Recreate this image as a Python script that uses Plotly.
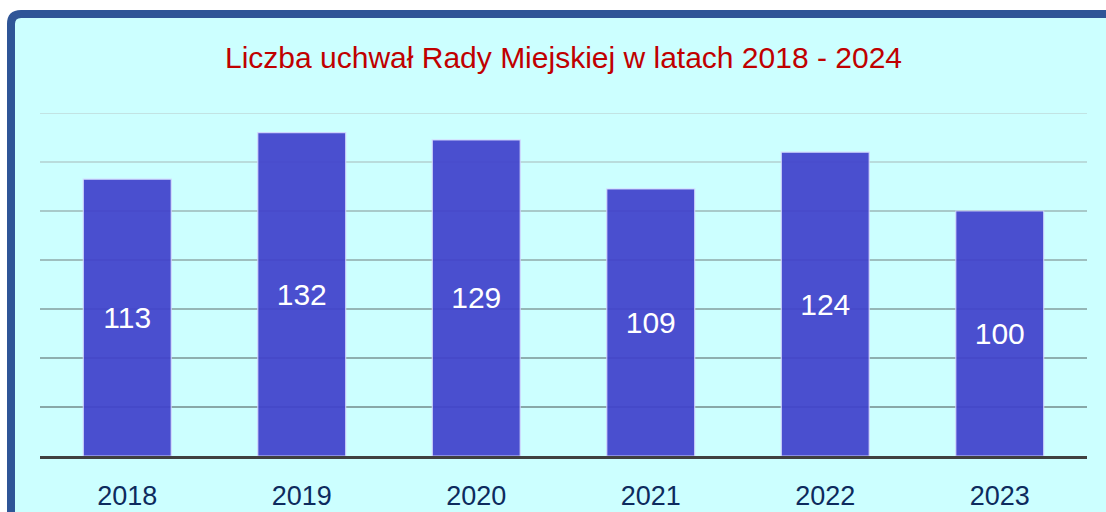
import plotly.graph_objects as go

years = ["2018", "2019", "2020", "2021", "2022", "2023"]
counts = [113, 132, 129, 109, 124, 100]
title_text = "Liczba uchwał Rady Miejskiej w latach 2018 - 2024"
grid_values = [20, 40, 60, 80, 100, 120, 140]
grid_colors = ["#88a8a8", "#8eafaf", "#95b6b6", "#9ebfbf", "#a8caca", "#b9dcdc", "#c2e3e3"]

FONT = "Liberation Sans Narrow, Arial Narrow, Liberation Sans, Arial, sans-serif"
W, H = 1106, 512
ML, MR, MT, MB = 40, 19, 113, 56
pw, ph = W - ML - MR, H - MT - MB

def px(x):
    return (x - ML) / pw

def py(y):
    return (H - MB - y) / ph

fig = go.Figure()
fig.add_trace(go.Bar(
    x=years, y=counts,
    marker=dict(color="rgb(64,65,204)", opacity=0.92,
                line=dict(color="rgba(215,215,255,0.9)", width=1.2)),
    text=[str(v) for v in counts],
    textposition="inside", insidetextanchor="middle",
    textangle=0,
    textfont=dict(family=FONT, size=30, color="white"),
    hoverinfo="skip",
))

shapes = []
# frame
x0, y0, x1, y1, r = px(11), py(14), px(1140), py(560), 10
rx, ry = r / pw, r / ph
path = (f"M {x0},{y1} L {x0},{y0 - ry} Q {x0},{y0} {x0 + rx},{y0} "
        f"L {x1},{y0} L {x1},{y1} Z")
shapes.append(dict(type="path", path=path, xref="paper", yref="paper",
                   fillcolor="#ccffff", line=dict(color="#2f5597", width=8),
                   layer="below"))
for gv, gc in zip(grid_values, grid_colors):
    shapes.append(dict(type="line", xref="paper", yref="y", x0=0, x1=1,
                       y0=gv, y1=gv, line=dict(color=gc, width=2),
                       layer="below"))

fig.update_layout(
    width=W, height=H,
    margin=dict(l=ML, r=MR, t=MT, b=MB, autoexpand=False),
    paper_bgcolor="white",
    plot_bgcolor="rgba(0,0,0,0)",
    shapes=shapes,
    bargap=0.496,
    showlegend=False,
    title=dict(text=title_text, xref="paper", x=0.5, xanchor="center",
               y=1 - 57 / H, yanchor="middle", yref="container",
               font=dict(family=FONT, size=30, color="#c00000")),
    xaxis=dict(showline=True, linecolor="#404040", linewidth=3,
               showgrid=False, ticks="", zeroline=False, automargin=False,
               ticklabelstandoff=14,
               tickfont=dict(family=FONT, size=27, color="#0d2b5e")),
    yaxis=dict(range=[0, 140], showgrid=False, zeroline=False, automargin=False,
               showticklabels=False, ticks="", fixedrange=True),
)

fig.write_html("out.html", config={"displayModeBar": False},
               post_script="document.body.style.margin='0';")
